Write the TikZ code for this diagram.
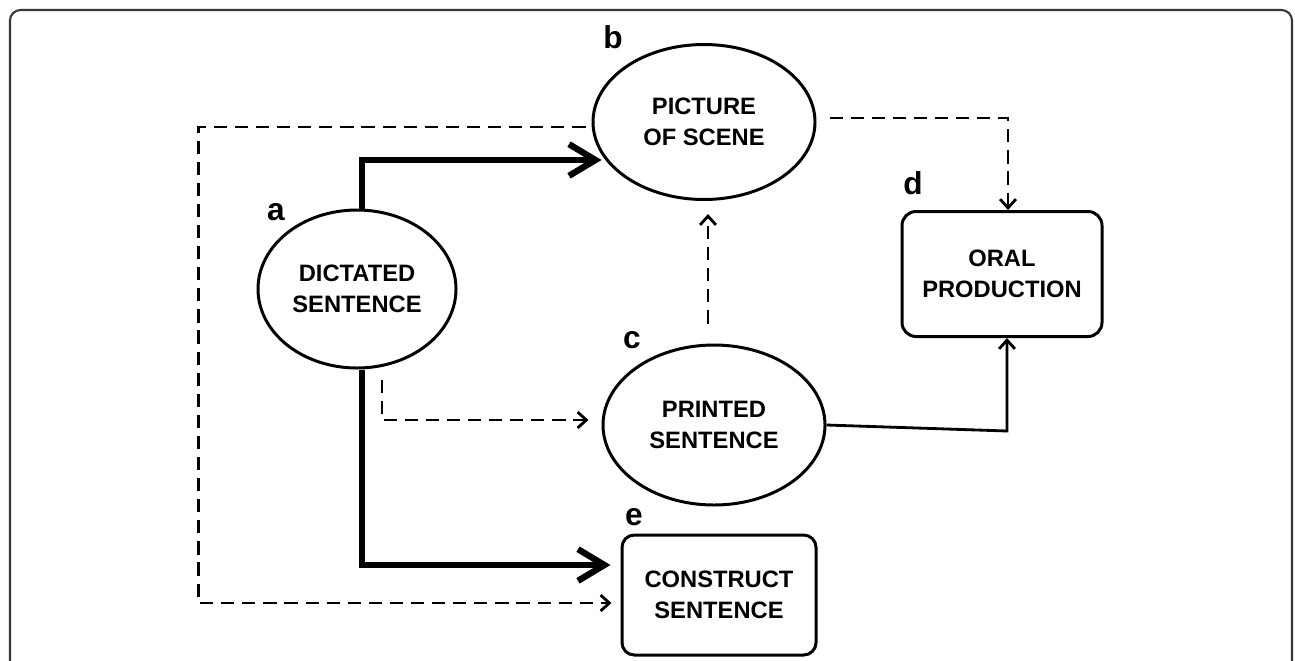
\documentclass[tikz,border=0pt]{standalone}
\usepackage{fontspec}
\setmainfont{Liberation Sans}
\usetikzlibrary{shapes.geometric,arrows.meta}
\definecolor{framegray}{RGB}{55,55,55}

\begin{document}
\begin{tikzpicture}[x=0.2mm,y=-0.2mm,
  bubble/.style={ellipse,draw,line width=1.7pt,inner sep=0pt,align=center,
    font=\bfseries\fontsize{13.5}{17.5}\selectfont},
  stagebox/.style={rectangle,draw,rounded corners=8pt,line width=1.7pt,inner sep=0pt,align=center,
    font=\bfseries\fontsize{13.5}{17.5}\selectfont},
  tag/.style={inner sep=0pt,font=\bfseries\fontsize{18}{18}\selectfont},
  bigarrow/.style={line width=3.6pt,-{Straight Barb[length=15pt,width=18pt]}},
  dasharrow/.style={line width=1.6pt,dash pattern=on 7.5pt off 4.5pt,-{Straight Barb[length=5pt,width=9pt]}},
  solidarrow/.style={line width=1.6pt,-{Straight Barb[length=5pt,width=9pt]}}]

\useasboundingbox (0,0) rectangle (1295,660);

% Frame
\draw[framegray,line width=1.2pt,rounded corners=6pt] (10,680) -- (10,10) -- (1292,10) -- (1292,680);

% Stages
\node[bubble,minimum width=4.44cm,minimum height=3.1cm] (b) at (704,122) {PICTURE\\OF SCENE};
\node[bubble,minimum width=3.96cm,minimum height=3.16cm] (a) at (357,289) {DICTATED\\SENTENCE};
\node[bubble,minimum width=4.44cm,minimum height=3.2cm] (c) at (714,425) {PRINTED\\SENTENCE};
\node[stagebox,minimum width=4cm,minimum height=2.5cm] (d) at (1002,274) {ORAL\\PRODUCTION};
\node[stagebox,minimum width=3.88cm,minimum height=2.4cm,rounded corners=7pt] (e) at (719,595) {CONSTRUCT\\SENTENCE};

% Letters
\node[tag] (la) at (276,212) {a};
\node[tag] (lb) at (613,37) {b};
\node[tag] (lc) at (632,340) {c};
\node[tag] (ld) at (913,183) {d};
\node[tag] (le) at (634,517) {e};

% Heavy arrows
\draw[bigarrow] ([shift={(5,0)}]a.north) |- ([shift={(10,38)}]b.west);
\draw[bigarrow] ([shift={(5,0)}]a.south) |- ([shift={(-10,-30)}]e.west);

% Dashed arrows
\draw[dasharrow] ([shift={(25,10)}]a.south) |- ([shift={(-13,-5)}]c.west);
\draw[dasharrow] ([shift={(-6,-20)}]c.north) -- ([shift={(4,13)}]b.south);
\draw[dasharrow] ([shift={(13,-4)}]b.east) -| ([shift={(6,0)}]d.north);
\draw[dasharrow] ([shift={(-6,5)}]b.west) -| ([shift={(-422,8)}]e.west) -- ([shift={(-9,8)}]e.west);

% Printed to oral
\draw[solidarrow] (c.east) -- ([shift={(5,93)}]d.south) -- ([shift={(5,0)}]d.south);
\end{tikzpicture}
\end{document}
